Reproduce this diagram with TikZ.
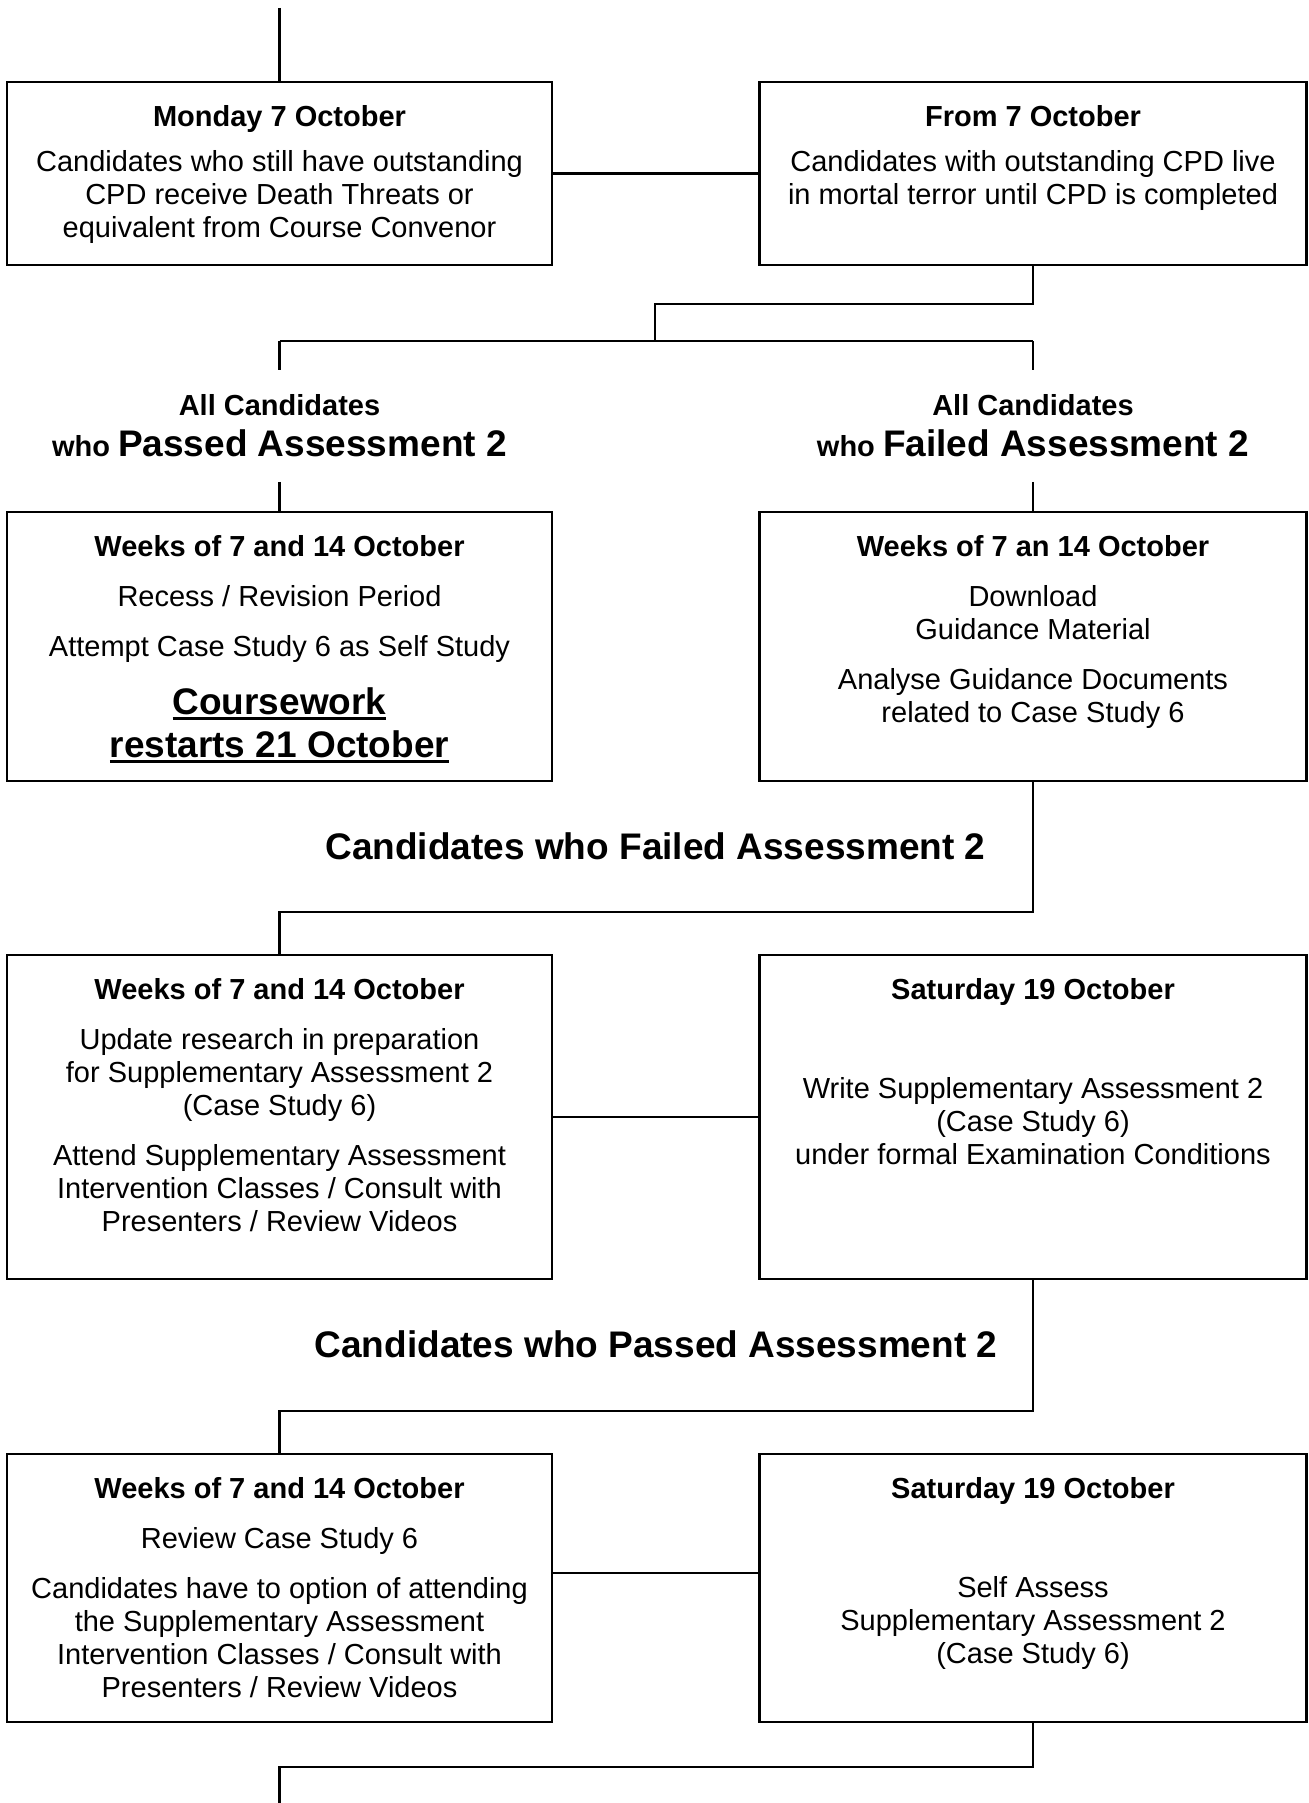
\documentclass[tikz,border=0pt]{standalone}
\usepackage{fontspec}
\setmainfont{Liberation Sans}
\usetikzlibrary{calc}
\tikzset{
	every path/.style={line width=1.1pt},
	box/.style={
		draw,
		rectangle,
		line width=1.1pt,
		inner sep=0pt,
	},
	leftbox/.style={box, minimum width=272.5pt},
	rightbox/.style={box, minimum width=273.5pt},
	txt/.style={
		font=\fontsize{14.5}{16.5}\selectfont,
		align=center,
		inner sep=0pt,
		anchor=north,
	},
	lbl/.style={
		txt,
		font=\bfseries\fontsize{14.5}{16.5}\selectfont,
		inner ysep=11.8pt,
	},
	bighead/.style={
		font=\bfseries\fontsize{18.5}{21.5}\selectfont,
		align=center,
		inner sep=0pt,
	},
}
\newcommand{\hd}[1]{{\bfseries #1}}
\newcommand{\bigtxt}[1]{{\fontsize{18.5}{21.5}\selectfont #1}}
\newsavebox{\ulbox}
\newcommand{\ulbar}[1]{\sbox{\ulbox}{#1}\rlap{\rule[-3pt]{\wd\ulbox}{1.6pt}}\usebox{\ulbox}}

\begin{document}
\begin{tikzpicture}[
		x=0.5pt, y=-0.5pt,
		row1/.style={minimum height=91.5pt},
		row2/.style={minimum height=134.5pt},
		row3/.style={minimum height=162pt},
		row4/.style={minimum height=134pt},
	]
		\useasboundingbox (0,0) rectangle (1308,1803);

		\coordinate (top) at (279.5,8);
		\coordinate (fork) at (655,341);
		\coordinate (bottom) at (279.5,1803);

		% boxes
		\node[leftbox, row1]  (mon)      at (279.5,173.5) {};
		\node[rightbox, row1] (from7)    at (1033,173.5) {};
		\node[leftbox, row2]  (wkpass)   at (279.5,646.5) {};
		\node[rightbox, row2] (wkfail)   at (1033,646.5) {};
		\node[leftbox, row3]  (wkprep)   at (279.5,1117) {};
		\node[rightbox, row3] (satwrite) at (1033,1117) {};
		\node[leftbox, row4]  (wkreview) at (279.5,1588) {};
		\node[rightbox, row4] (satself)  at (1033,1588) {};

		% box texts
		\node[txt] (montext) at (279.5,104.6) {\hd{Monday 7 October}\\[6pt]
			Candidates who still have outstanding\\CPD receive Death Threats or\\equivalent from Course Convenor};
		\node[txt] (from7text) at (1033,104.6) {\hd{From 7 October}\\[6pt]
			Candidates with outstanding CPD live\\in mortal terror until CPD is completed};

		\node[lbl] (passlbl) at (279.5,370) {All Candidates\\[4pt]who \bigtxt{Passed Assessment 2}};
		\node[lbl] (faillbl) at (1033,370) {All Candidates\\[4pt]who \bigtxt{Failed Assessment 2}};

		\node[txt] (wkpasstext) at (279.5,534.6) {\hd{Weeks of 7 and 14 October}\\[8.5pt]
			Recess / Revision Period\\[8.5pt]Attempt Case Study 6 as Self Study};
		\node[bighead, anchor=north] (restart) at (279.5,686.3) {\ulbar{Coursework}\\\ulbar{restarts 21 October}};
		\node[txt] (wkfailtext) at (1033,534.6) {\hd{Weeks of 7 an 14 October}\\[8.5pt]
			Download\\Guidance Material\\[8.5pt]Analyse Guidance Documents\\related to Case Study 6};

		\node[bighead] (failhead) at (655.5,846.5) {Candidates who Failed Assessment 2};

		\node[txt] (wkpreptext) at (279.5,977.6) {\hd{Weeks of 7 and 14 October}\\[8.5pt]
			Update research in preparation\\for Supplementary Assessment 2\\(Case Study 6)\\[8.5pt]
			Attend Supplementary Assessment\\Intervention Classes / Consult with\\Presenters / Review Videos};
		\node[txt] (satwritetext) at (1033,977.6) {\hd{Saturday 19 October}\\[33pt]
			Write Supplementary Assessment 2\\(Case Study 6)\\under formal Examination Conditions};

		\node[bighead] (passhead) at (656,1344) {Candidates who Passed Assessment 2};

		\node[txt] (wkreviewtext) at (279.5,1476) {\hd{Weeks of 7 and 14 October}\\[8.5pt]
			Review Case Study 6\\[8.5pt]Candidates have to option of attending\\the Supplementary Assessment\\
			Intervention Classes / Consult with\\Presenters / Review Videos};
		\node[txt] (satselftext) at (1033,1476) {\hd{Saturday 19 October}\\[33pt]
			Self Assess\\Supplementary Assessment 2\\(Case Study 6)};

		% connectors
		\draw (top) -- (mon);
		\draw (mon) -- (from7);
		\draw (from7.south) -- ++(0,38) -| (fork);
		\draw (passlbl.north |- fork) -- (faillbl.north |- fork);
		\draw (passlbl.north |- fork) -- (passlbl.north);
		\draw (faillbl.north |- fork) -- (faillbl.north);
		\draw (passlbl) -- (wkpass);
		\draw (faillbl) -- (wkfail);
		\draw (wkfail.south) -- ++(0,130) -| (wkprep.north);
		\draw (wkprep) -- (satwrite);
		\draw (satwrite.south) -- ++(0,131) -| (wkreview.north);
		\draw ([yshift=7.5pt]wkreview.east) -- ([yshift=7.5pt]satself.west);
		\draw (satself.south) -- ++(0,44) -| (bottom);

	\end{tikzpicture}
\end{document}
